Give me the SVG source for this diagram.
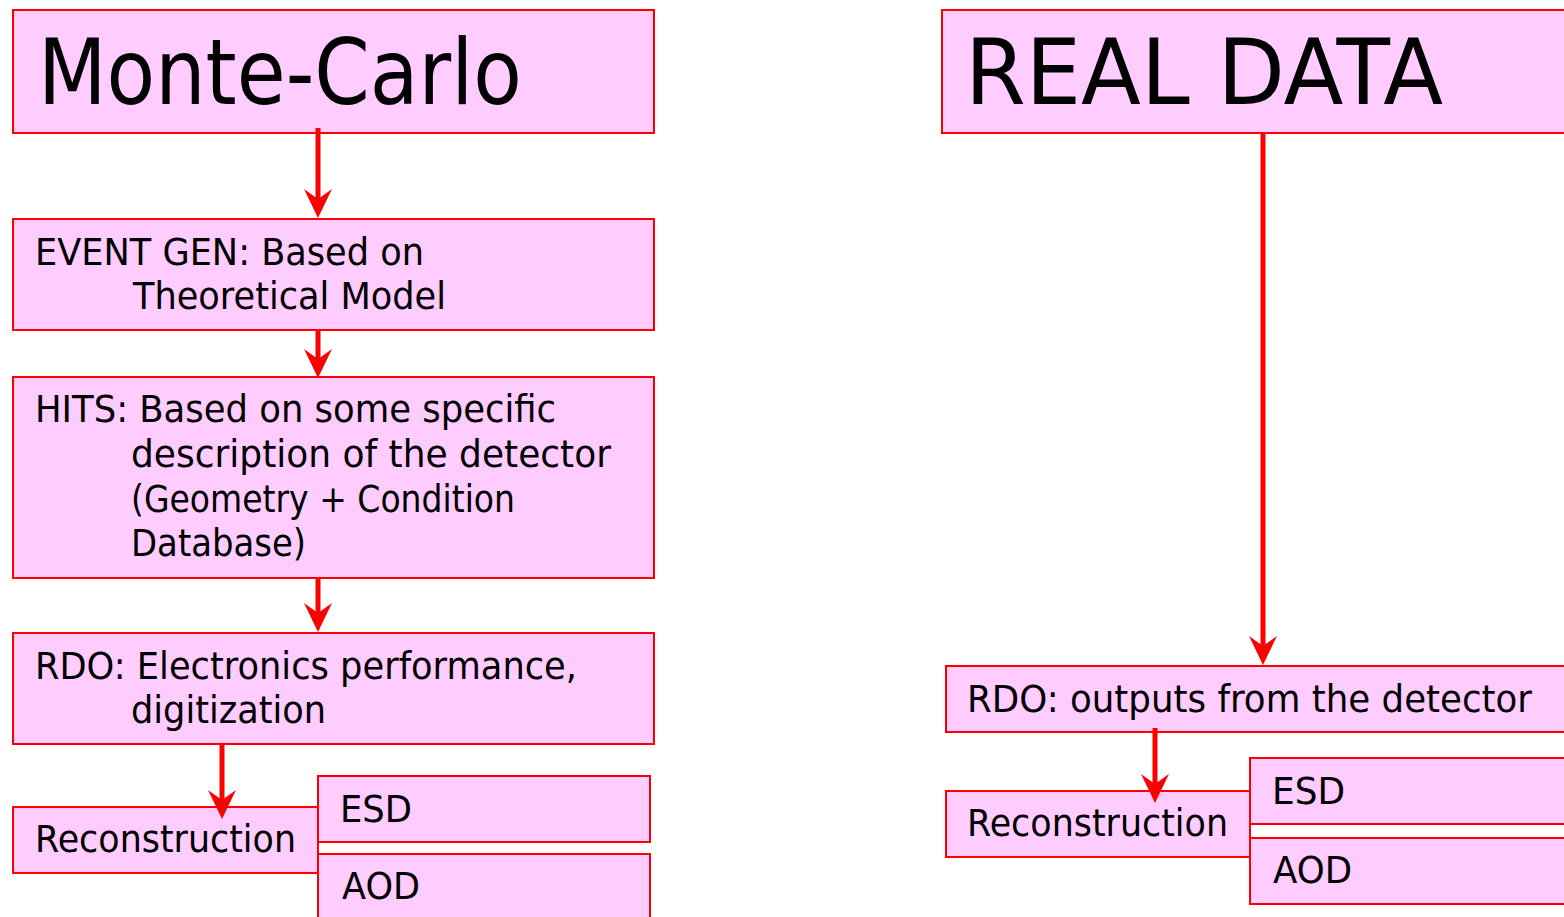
<svg xmlns="http://www.w3.org/2000/svg" width="1564" height="917" viewBox="0 0 1564 917">
  <style>
    .box { fill: #ffccff; stroke: #ff0000; stroke-width: 2; }
    .title { font-family: "Comic Sans MS", "DejaVu Sans", sans-serif; font-size: 90px; fill: #000; }
    .txt { font-family: "Comic Sans MS", "DejaVu Sans", sans-serif; font-size: 37px; fill: #000; }
    .flow { stroke: #ff0000; stroke-width: 5; fill: none; marker-end: url(#head); }
  </style>
  <defs>
    <marker id="head" markerUnits="userSpaceOnUse" viewBox="-30 -15 31 30" markerWidth="31" markerHeight="30" refX="-18" refY="0" orient="auto" overflow="visible">
      <path d="M0,0 L-29,-14 L-19,0 L-29,14 Z" fill="#ff0000"/>
    </marker>
  </defs>
  <rect width="1564" height="917" fill="#ffffff"/>

  <!-- simulation chain -->
  <g id="mc-title">
    <rect class="box" x="13" y="10" width="641" height="123"/>
    <text class="title" x="38" y="104" textLength="484" lengthAdjust="spacingAndGlyphs">Monte-Carlo</text>
  </g>
  <g id="mc-eventgen">
    <rect class="box" x="13" y="219" width="641" height="111"/>
    <text class="txt" x="35" y="265" textLength="389" lengthAdjust="spacingAndGlyphs">EVENT GEN: Based on</text>
    <text class="txt" x="133" y="309" textLength="313" lengthAdjust="spacingAndGlyphs">Theoretical Model</text>
  </g>
  <g id="mc-hits">
    <rect class="box" x="13" y="377" width="641" height="201"/>
    <text class="txt" x="35" y="422" textLength="521" lengthAdjust="spacingAndGlyphs">HITS: Based on some specific</text>
    <text class="txt" x="131" y="467" textLength="480" lengthAdjust="spacingAndGlyphs">description of the detector</text>
    <text class="txt" x="131" y="512" textLength="384" lengthAdjust="spacingAndGlyphs">(Geometry + Condition</text>
    <text class="txt" x="131" y="556" textLength="175" lengthAdjust="spacingAndGlyphs">Database)</text>
  </g>
  <g id="mc-rdo">
    <rect class="box" x="13" y="633" width="641" height="111"/>
    <text class="txt" x="35" y="679" textLength="542" lengthAdjust="spacingAndGlyphs">RDO: Electronics performance,</text>
    <text class="txt" x="131" y="723" textLength="195" lengthAdjust="spacingAndGlyphs">digitization</text>
  </g>
  <g id="mc-reco">
    <rect class="box" x="13" y="807" width="305" height="66"/>
    <text class="txt" x="35" y="852" textLength="261" lengthAdjust="spacingAndGlyphs">Reconstruction</text>
  </g>
  <g id="mc-esd">
    <rect class="box" x="318" y="776" width="332" height="66"/>
    <text class="txt" x="340" y="822" textLength="72" lengthAdjust="spacingAndGlyphs">ESD</text>
  </g>
  <g id="mc-aod">
    <rect class="box" x="318" y="854" width="332" height="70"/>
    <text class="txt" x="342" y="899" textLength="78" lengthAdjust="spacingAndGlyphs">AOD</text>
  </g>

  <!-- detector data chain -->
  <g id="data-title">
    <rect class="box" x="942" y="10" width="630" height="123"/>
    <text class="title" x="965" y="104" textLength="478" lengthAdjust="spacingAndGlyphs">REAL DATA</text>
  </g>
  <g id="data-rdo">
    <rect class="box" x="946" y="666" width="626" height="66"/>
    <text class="txt" x="967" y="712" textLength="565" lengthAdjust="spacingAndGlyphs">RDO: outputs from the detector</text>
  </g>
  <g id="data-reco">
    <rect class="box" x="946" y="791" width="304" height="66"/>
    <text class="txt" x="967" y="836" textLength="261" lengthAdjust="spacingAndGlyphs">Reconstruction</text>
  </g>
  <g id="data-esd">
    <rect class="box" x="1250" y="758" width="322" height="66"/>
    <text class="txt" x="1272" y="804" textLength="73" lengthAdjust="spacingAndGlyphs">ESD</text>
  </g>
  <g id="data-aod">
    <rect class="box" x="1250" y="838" width="322" height="66"/>
    <text class="txt" x="1273" y="883" textLength="79" lengthAdjust="spacingAndGlyphs">AOD</text>
  </g>

  <!-- connectors: each line stops at the arrowhead notch -->
  <g id="connectors">
    <line class="flow" x1="318" y1="128" x2="318" y2="200"/>
    <line class="flow" x1="318" y1="330" x2="318" y2="360"/>
    <line class="flow" x1="318" y1="578" x2="318" y2="614"/>
    <line class="flow" x1="222" y1="744" x2="222" y2="801"/>
    <line class="flow" x1="1263" y1="133" x2="1263" y2="647"/>
    <line class="flow" x1="1155" y1="728" x2="1155" y2="785"/>
  </g>
</svg>
